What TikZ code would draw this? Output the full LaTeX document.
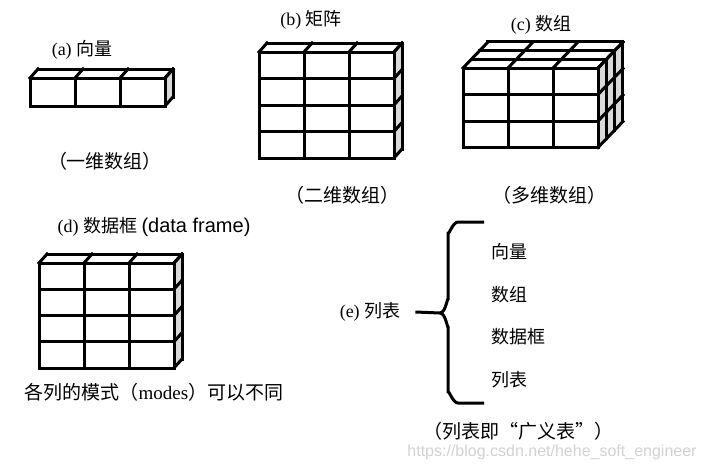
\documentclass[tikz,border=0pt]{standalone}
\usepackage{fontspec}
\setmainfont{Liberation Serif}
\newfontfamily\cjk{Noto Sans CJK SC}
\newfontfamily\arial{Liberation Sans}
\tikzset{
  box/.style={line width=3pt, line join=miter, line cap=rect},
  side/.style={fill=gray!30},
  lbl/.style={font=\fontsize{18}{21}\selectfont, inner sep=0pt},
  captxt/.style={font=\fontsize{19}{22}\selectfont, inner sep=0pt},
}
\begin{document}
\begin{tikzpicture}[x=1pt, y=-1pt]
    \useasboundingbox (0,0) rectangle (705,466);

    % (a) vector: one row of three cells
    \node[lbl] (la) at (82,50) {(a) {\cjk 向量}};
    \begin{scope}[shift={(30,78)}]
        \fill[side] (135,0) -- ++(8,-9) -- ++(0,28) -- (135,28) -- cycle;
        \foreach \i in {0,...,3} {
            \draw[box] (\i*45,0) -- (\i*45,28);
            \draw[box] (\i*45,0) -- ++(8,-9);
        }
        \foreach \j in {0,1} {
            \draw[box] (0,\j*28) -- (135,\j*28);
            \draw[box] (135,\j*28) -- ++(8,-9);
        }
        \draw[box] (8,-9) -- ++(135,0) -- ++(0,28);
    \end{scope}
    \node[captxt] (ca) at (105,161) {\cjk （一维数组）};

    % (b) matrix: 4 x 3
    \node[lbl] (lb) at (311,20) {(b) {\cjk 矩阵}};
    \begin{scope}[shift={(259,52)}]
        \fill[side] (135,0) -- ++(8,-9) -- ++(0,106) -- (135,106) -- cycle;
        \foreach \i in {0,...,3} {
            \draw[box] (\i*45,0) -- (\i*45,106);
            \draw[box] (\i*45,0) -- ++(8,-9);
        }
        \foreach \j in {0,...,4} {
            \draw[box] (0,\j*26.5) -- (135,\j*26.5);
            \draw[box] (135,\j*26.5) -- ++(8,-9);
        }
        \draw[box] (8,-9) -- ++(135,0) -- ++(0,106);
    \end{scope}
    \node[captxt] (cb) at (342,195) {\cjk （二维数组）};

    % (c) array: 3 x 3 x 3
    \node[lbl] (lc) at (541,25) {(c) {\cjk 数组}};
    \begin{scope}[shift={(463,68)}]
        \fill[side] (135,0) -- ++(25,-26) -- ++(0,79.5) -- (135,79.5) -- cycle;
        \foreach \i in {0,...,3} {
            \draw[box] (\i*45,0) -- (\i*45,79.5);
            \draw[box] (\i*45,0) -- ++(25,-26);
        }
        \foreach \j in {0,...,3} {
            \draw[box] (0,\j*26.5) -- (135,\j*26.5);
            \draw[box] (135,\j*26.5) -- ++(25,-26);
        }
        \foreach \l in {1,2,3} {
            \draw[box] (\l*8.33,-\l*8.67) -- ++(135,0);
            \draw[box] (135+\l*8.33,-\l*8.67) -- ++(0,79.5);
        }
    \end{scope}
    \node[captxt] (cc) at (549,195) {\cjk （多维数组）};

    % (d) data frame: 4 x 3
    \node[lbl] (ld) at (154,227) {(d)\ {\cjk 数据框} {\arial\fontsize{20}{22}\selectfont (data frame)}};
    \begin{scope}[shift={(39,263)}]
        \fill[side] (135,0) -- ++(8,-9) -- ++(0,105) -- (135,105) -- cycle;
        \foreach \i in {0,...,3} {
            \draw[box] (\i*45,0) -- (\i*45,105);
            \draw[box] (\i*45,0) -- ++(8,-9);
        }
        \foreach \j in {0,...,4} {
            \draw[box] (0,\j*26.25) -- (135,\j*26.25);
            \draw[box] (135,\j*26.25) -- ++(8,-9);
        }
        \draw[box] (8,-9) -- ++(135,0) -- ++(0,105);
    \end{scope}
    \node[captxt] (cd) at (154,392) {{\cjk 各列的模式（}modes{\cjk ）可以不同}};

    % (e) list with brace
    \node[lbl] (le) at (370,312) {(e) {\cjk 列表}};
    \node[lbl, anchor=west] (e1) at (491,252) {\cjk 向量};
    \node[lbl, anchor=west] (e2) at (491,295) {\cjk 数组};
    \node[lbl, anchor=west] (e3) at (491,337) {\cjk 数据框};
    \node[lbl, anchor=west] (e4) at (491,380) {\cjk 列表};
    \coordinate (bt) at (484,222);
    \coordinate (bb) at (484,403);
    \coordinate (bm) at (440,313);
    \draw[line width=3pt] (le.east) ++(15,0) -- (bm)
        to[out=0, in=90] (448,300) -- (448,232) to[out=-90, in=180] (458,222) -- (bt);
    \draw[line width=3pt] (bm) to[out=0, in=-90] (448,326) -- (448,393)
        to[out=90, in=180] (458,403) -- (bb);
    \node[captxt] (ce) at (518,431) {\cjk （列表即“广义表”）};

    % watermark
    \node[inner sep=0pt, text=gray!35, font=\arial\fontsize{16}{18}\selectfont] (wm) at (552,452) {https://blog.csdn.net/hehe\_soft\_engineer};
\end{tikzpicture}
\end{document}
